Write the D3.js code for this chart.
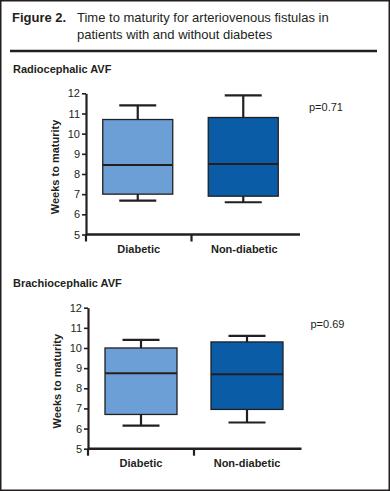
<!DOCTYPE html>
<html>
<head>
<meta charset="utf-8">
<script src="https://cdn.jsdelivr.net/npm/d3@7"></script>
<style>
  body { margin: 0; background: #fff; }
  svg text { font-family: "Liberation Sans", Arial, sans-serif; fill: #231f20; }
</style>
</head>
<body>
<div id="chart"></div>
<script>
// data
const categories = ["Diabetic", "Non-diabetic"];
const panelTitles = ["Radiocephalic AVF", "Brachiocephalic AVF"];
const pValues = ["p=0.71", "p=0.69"];
const yTicks = [5, 6, 7, 8, 9, 10, 11, 12];
// [min, q1, median, q3, max] per category
const radioStats = [
  [6.68, 7.0, 8.45, 10.7, 11.4],
  [6.6, 6.9, 8.5, 10.8, 11.9]
];
const brachioStats = [
  [6.15, 6.7, 8.75, 10.0, 10.4],
  [6.3, 6.95, 8.7, 10.3, 10.6]
];
const boxColors = ["#6b9fd6", "#0a5ca7"];

const W = 390, H = 491;
const ink = "#231f20";

const svg = d3.select("#chart").append("svg")
  .attr("width", W).attr("height", H);

// outer frame
svg.append("rect")
  .attr("x", 0.75).attr("y", 0.75)
  .attr("width", W - 1.5).attr("height", H - 1.5)
  .attr("fill", "none").attr("stroke", ink).attr("stroke-width", 1.5);

// header
svg.append("text").attr("x", 12).attr("y", 22).attr("font-size", 13)
  .attr("font-weight", "bold").text("Figure 2.");
svg.append("text").attr("x", 77).attr("y", 22).attr("font-size", 13)
  .text("Time to maturity for arteriovenous fistulas in");
svg.append("text").attr("x", 77).attr("y", 39).attr("font-size", 13)
  .text("patients with and without diabetes");
svg.append("line")
  .attr("x1", 10).attr("x2", 377).attr("y1", 51).attr("y2", 51)
  .attr("stroke", ink).attr("stroke-width", 2.5);

function drawPanel(cfg) {
  const g = svg.append("g");

  const y = d3.scaleLinear().domain([5, 12]).range([cfg.yBottom, cfg.yTop]);
  const x = d3.scaleBand().domain(categories).range([cfg.xLeft, cfg.xLeft + 2 * cfg.step]);

  g.append("text")
    .attr("x", 13).attr("y", cfg.titleY)
    .attr("font-size", 11).attr("font-weight", "bold")
    .text(cfg.title);

  // y axis
  const yAxis = g.append("g")
    .attr("transform", `translate(${cfg.xLeft},0)`)
    .call(d3.axisLeft(y).tickValues(yTicks).tickFormat(d3.format("d"))
      .tickSize(4).tickSizeOuter(0).tickPadding(2));
  yAxis.select(".domain").attr("stroke", ink).attr("stroke-width", 2.2);
  yAxis.selectAll(".tick line").attr("stroke", ink).attr("stroke-width", 1.6);
  yAxis.selectAll(".tick text")
    .attr("font-family", "'Liberation Sans', Arial, sans-serif")
    .attr("font-size", 11).attr("fill", ink);

  // x axis line
  g.append("line")
    .attr("x1", cfg.xLeft).attr("x2", cfg.xRight)
    .attr("y1", y(5)).attr("y2", y(5))
    .attr("stroke", ink).attr("stroke-width", 2.5);

  // category dividers
  g.selectAll(".div")
    .data(categories)
    .join("line")
    .attr("x1", (d) => x(d)).attr("x2", (d) => x(d))
    .attr("y1", y(5)).attr("y2", y(5) + 7)
    .attr("stroke", ink).attr("stroke-width", 2.2);

  g.selectAll(".cat")
    .data(categories)
    .join("text")
    .attr("x", (d) => x(d) + x.bandwidth() / 2)
    .attr("y", cfg.labelY)
    .attr("text-anchor", "middle")
    .attr("font-size", 11).attr("font-weight", "bold")
    .text((d) => d);

  // y axis title
  g.append("text")
    .attr("transform", `translate(${cfg.xLeft - 27},${(y(5) + y(12)) / 2 + 3}) rotate(-90)`)
    .attr("text-anchor", "middle")
    .attr("font-size", 11).attr("font-weight", "bold")
    .text("Weeks to maturity");

  // boxes
  const boxW = cfg.boxW, capW = 37;
  const boxes = g.selectAll(".box")
    .data(cfg.stats)
    .join("g")
    .attr("transform", (d, i) => `translate(${x(categories[i]) + x.bandwidth() / 2 + cfg.shift},0)`);

  boxes.append("line")
    .attr("x1", 0).attr("x2", 0)
    .attr("y1", (d) => y(d[4])).attr("y2", (d) => y(d[0]))
    .attr("stroke", ink).attr("stroke-width", 2.2);
  boxes.append("rect")
    .attr("x", -boxW / 2).attr("width", boxW)
    .attr("y", (d) => y(d[3]))
    .attr("height", (d) => y(d[1]) - y(d[3]))
    .attr("fill", (d, i) => boxColors[i])
    .attr("stroke", ink).attr("stroke-width", 1.3);
  boxes.append("line")
    .attr("x1", -boxW / 2).attr("x2", boxW / 2)
    .attr("y1", (d) => y(d[2])).attr("y2", (d) => y(d[2]))
    .attr("stroke", ink).attr("stroke-width", 2);
  [0, 4].forEach((k) => {
    boxes.append("line")
      .attr("x1", -capW / 2).attr("x2", capW / 2)
      .attr("y1", (d) => y(d[k])).attr("y2", (d) => y(d[k]))
      .attr("stroke", ink).attr("stroke-width", 2.2);
  });

  g.append("text")
    .attr("x", cfg.pX).attr("y", cfg.pY)
    .attr("font-size", 11)
    .text(cfg.p);
}

drawPanel({
  title: panelTitles[0], titleY: 73, stats: radioStats, p: pValues[0],
  yTop: 93.3, yBottom: 234.5, xLeft: 86, xRight: 300, step: 105.5,
  boxW: 70, shift: -1, labelY: 253, pX: 309, pY: 111
});
drawPanel({
  title: panelTitles[1], titleY: 287, stats: brachioStats, p: pValues[1],
  yTop: 307.7, yBottom: 448.7, xLeft: 88, xRight: 301.5, step: 106,
  boxW: 72, shift: 0, labelY: 467, pX: 310.5, pY: 328
});
</script>
</body>
</html>
